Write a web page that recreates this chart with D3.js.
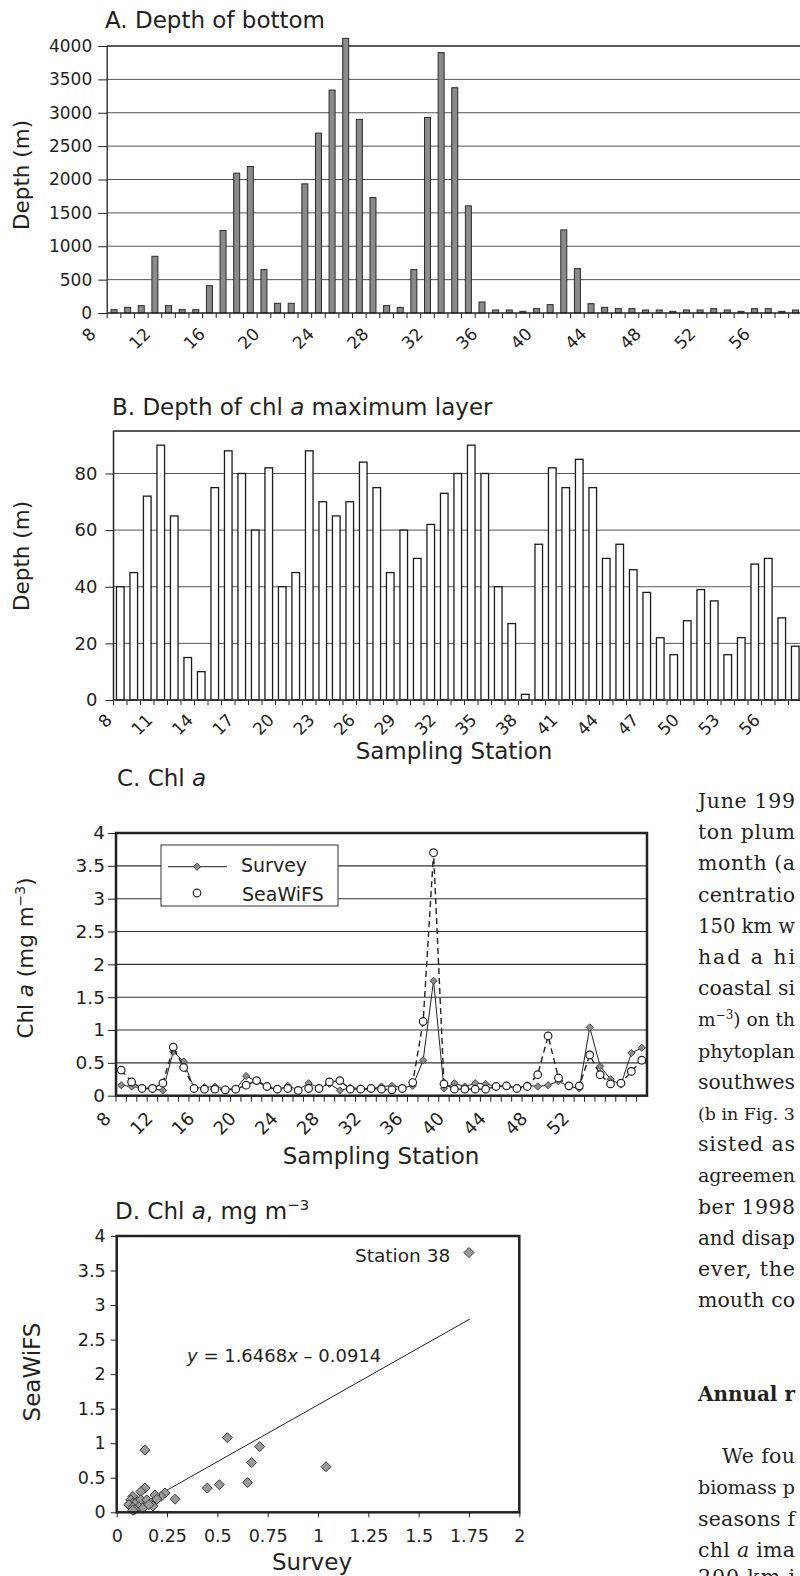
<!DOCTYPE html>
<html>
<head>
<meta charset="utf-8">
<script src="https://cdn.jsdelivr.net/npm/d3@7"></script>
<style>
  body { margin:0; background:#fff; }
  svg { display:block; color:#222; }
  svg text { font-family:"DejaVu Sans", sans-serif; fill:#231f20; }
  svg .body text { font-family:"DejaVu Serif", serif; }
</style>
</head>
<body>
<svg id="fig" width="800" height="1576"></svg>
<script>
var stations = [8,9,10,11,12,13,14,15,16,17,18,19,20,21,22,23,24,25,26,27,28,29,30,31,32,33,
  34,35,36,37,38,39,40,41,42,43,44,45,46,47,48,49,50,51,52,53,54,55,56,57,58];

// A. depth of bottom (m)
var bottomDepth = [50,85,110,850,110,50,50,410,1235,2095,2195,650,145,145,1935,2695,3340,4115,2900,1730,
  110,85,650,2930,3900,3375,1605,165,45,45,25,65,125,1245,665,140,85,65,65,45,45,25,45,45,65,45,25,65,65,25,45];
var depthTicksA = [0,500,1000,1500,2000,2500,3000,3500,4000];
var labelsA = [8,12,16,20,24,28,32,36,40,44,48,52,56];

// B. depth of chl a maximum layer (m)
var chlMaxDepth = [40,45,72,90,65,15,10,75,88,80,60,82,40,45,88,70,65,70,84,75,45,60,50,62,73,80,90,80,
  40,27,2,55,82,75,85,75,50,55,46,38,22,16,28,39,35,16,22,48,50,29,19];
var depthTicksB = [0,20,40,60,80];
var labelsB = [8,11,14,17,20,23,26,29,32,35,38,41,44,47,50,53,56];

// C. chl a (mg m-3)
var chlSurvey = [0.16,0.14,0.12,0.11,0.08,0.67,0.52,0.11,0.13,0.14,0.10,0.10,0.30,0.22,0.13,0.09,0.15,0.09,
  0.19,0.12,0.18,0.08,0.12,0.11,0.10,0.14,0.15,0.12,0.15,0.54,1.75,0.11,0.19,0.14,0.19,0.18,0.14,0.15,0.12,
  0.16,0.14,0.16,0.22,0.14,0.11,1.04,0.45,0.25,0.17,0.65,0.73];
var chlSeaWiFS = [0.39,0.21,0.11,0.11,0.19,0.74,0.43,0.11,0.10,0.10,0.09,0.10,0.16,0.23,0.14,0.10,0.11,0.08,
  0.11,0.11,0.21,0.23,0.10,0.10,0.11,0.10,0.09,0.11,0.20,1.13,3.70,0.18,0.10,0.10,0.10,0.10,0.14,0.15,0.11,
  0.14,0.32,0.91,0.27,0.15,0.15,0.62,0.32,0.18,0.19,0.37,0.54];
var chlTicks = [0,0.5,1,1.5,2,2.5,3,3.5,4];
var labelsC = [8,12,16,20,24,28,32,36,40,44,48,52];

// D. SeaWiFS vs survey
var scatterSurvey = [1.75,1.04,0.55,0.71,0.67,0.65,0.51,0.45,0.29,0.14,0.14,0.12,0.24,0.22,0.19,0.20,
  0.08,0.07,0.08,0.06,0.10,0.12,0.15,0.17,0.18,0.11,0.08,0.13,0.16,0.09,0.08];
var scatterSeaWiFS = [3.76,0.66,1.08,0.95,0.72,0.43,0.40,0.35,0.19,0.90,0.35,0.30,0.28,0.23,0.25,0.19,
  0.23,0.18,0.13,0.11,0.15,0.18,0.18,0.13,0.09,0.08,0.07,0.06,0.11,0.04,0.03];
var fitSlope = 1.6468, fitIntercept = -0.0914;
var surveyTicksD = [0,0.25,0.5,0.75,1,1.25,1.5,1.75,2];

var svg = d3.select("#fig");

function rich(t, parts){
  parts.forEach(function(p){
    var s = t.append("tspan").text(p[0]);
    if (p[1] == "i") s.attr("font-style", "italic");
    if (p[1] == "b") s.attr("font-weight", "bold");
    if (p[1] == "sup") s.attr("font-size", "65%").attr("baseline-shift", "super");
  });
  return t;
}
function label(g, x, y, fs, parts, anchor, rot){
  var t = g.append("text").attr("font-size", fs).attr("text-anchor", anchor || "start");
  if (rot) t.attr("transform", "translate(" + x + "," + y + ") rotate(" + rot + ")");
  else t.attr("x", x).attr("y", y);
  return rich(t, parts);
}
function hgrid(g, y, vals, x1, x2, col, w){
  g.append("g").selectAll("line").data(vals).join("line")
    .attr("x1", x1).attr("x2", x2)
    .attr("y1", function(d){ return y(d); }).attr("y2", function(d){ return y(d); })
    .attr("stroke", col).attr("stroke-width", w);
}
function yLabels(g, y, vals, x0, tick, pad, fs){
  var ax = g.append("g").attr("transform", "translate(" + x0 + ",0)")
    .call(d3.axisLeft(y).tickValues(vals).tickSizeInner(tick).tickSizeOuter(0).tickPadding(pad).tickFormat(d3.format("")));
  ax.select(".domain").remove();
  ax.attr("font-family", null).attr("font-size", fs);
}
function catAxis(g, x, y0, labels, fs, dx, dy, tick){
  g.append("g").selectAll("line").data(x.domain()).join("line")
    .attr("x1", function(d){ return x(d); }).attr("x2", function(d){ return x(d); })
    .attr("y1", y0).attr("y2", y0 + tick).attr("stroke", "#222");
  var ax = g.append("g").attr("transform", "translate(0," + y0 + ")")
    .call(d3.axisBottom(x).tickValues(labels).tickSize(0));
  ax.select(".domain").remove();
  ax.attr("font-family", null).attr("font-size", fs);
  ax.selectAll("text").attr("x", 0).attr("y", 0).attr("dy", null)
    .attr("text-anchor", "end")
    .attr("transform", "translate(" + dx + "," + dy + ") rotate(-45)");
}
function diamond(size){
  return d3.symbol(d3.symbolSquare, size)();
}

// ---- A ----
var xA = d3.scaleBand().domain(stations).range([107.2, 802.3]);
var yA = d3.scaleLinear().domain([0, 4000]).range([313, 46]);
var gA = svg.append("g");
hgrid(gA, yA, depthTicksA.slice(1, -1), 107.2, 800, "#555", 1);
hgrid(gA, yA, [4000], 107.2, 800, "#222", 1.5);
gA.append("g").selectAll("rect").data(bottomDepth).join("rect")
  .attr("x", function(d, i){ return xA(stations[i]) + xA.bandwidth() / 2 - 3; })
  .attr("width", 6)
  .attr("y", function(d){ return yA(d); })
  .attr("height", function(d){ return yA(0) - yA(d); })
  .attr("fill", "#8a8a8a").attr("stroke", "#2a2a2a").attr("stroke-width", 1);
gA.append("line").attr("x1", 107.2).attr("x2", 107.2).attr("y1", yA(4000)).attr("y2", yA(0)).attr("stroke", "#222").attr("stroke-width", 1.3);
gA.append("line").attr("x1", 107.2).attr("x2", 800).attr("y1", yA(0)).attr("y2", yA(0)).attr("stroke", "#222").attr("stroke-width", 1.3);
yLabels(gA, yA, depthTicksA, 107.2, 9, 6, 17);
catAxis(gA, xA, yA(0), labelsA, 17, -17, 22, 5);
label(gA, 105, 28, 23, [["A. Depth of bottom", ""]]);
label(gA, 29, 175, 21.5, [["Depth (m)", ""]], "middle", -90);

// ---- B ----
var xB = d3.scaleBand().domain(stations).range([113.5, 802]);
var yB = d3.scaleLinear().domain([0, 95]).range([700, 431]);
var gB = svg.append("g");
hgrid(gB, yB, depthTicksB.slice(1), 113.5, 800, "#555", 1);
gB.append("line").attr("x1", 113.5).attr("x2", 800).attr("y1", yB(95)).attr("y2", yB(95)).attr("stroke", "#222").attr("stroke-width", 1.5);
gB.append("g").selectAll("rect").data(chlMaxDepth).join("rect")
  .attr("x", function(d, i){ return xB(stations[i]) + xB.bandwidth() / 2 - 3.8; })
  .attr("width", 7.6)
  .attr("y", function(d){ return yB(d); })
  .attr("height", function(d){ return yB(0) - yB(d); })
  .attr("fill", "#fff").attr("stroke", "#1a1a1a").attr("stroke-width", 1.3);
gB.append("line").attr("x1", 113.5).attr("x2", 113.5).attr("y1", yB(95)).attr("y2", yB(0)).attr("stroke", "#222").attr("stroke-width", 1.5);
gB.append("line").attr("x1", 113.5).attr("x2", 800).attr("y1", yB(0)).attr("y2", yB(0)).attr("stroke", "#222").attr("stroke-width", 1.3);
yLabels(gB, yB, depthTicksB, 113.5, 8, 8, 18);
catAxis(gB, xB, yB(0), labelsB, 17, -7, 21, 5);
label(gB, 112, 415, 23, [["B. Depth of chl ", ""], ["a", "i"], [" maximum layer", ""]]);
label(gB, 29, 556, 21.5, [["Depth (m)", ""]], "middle", -90);
label(gB, 454, 759, 23, [["Sampling Station", ""]], "middle");

// ---- C ----
var xC = d3.scaleBand().domain(stations).range([116, 647]);
var yC = d3.scaleLinear().domain([0, 4]).range([1095.7, 833]);
var gC = svg.append("g");
hgrid(gC, yC, chlTicks.slice(1, -1), 116, 647, "#333", 1.1);
yLabels(gC, yC, chlTicks, 116, 8, 3, 18.5);
catAxis(gC, xC, yC(0), labelsC, 18, -9, 24, 6);
function cx(d, i){ return xC(stations[i]) + xC.bandwidth() / 2; }
var lineC = d3.line().x(cx).y(function(d){ return yC(d); });
gC.append("path").attr("d", lineC(chlSurvey)).attr("fill", "none").attr("stroke", "#222").attr("stroke-width", 1);
gC.append("g").selectAll("path").data(chlSurvey).join("path")
  .attr("d", diamond(26))
  .attr("transform", function(d, i){ return "translate(" + cx(d, i) + "," + yC(d) + ") rotate(45)"; })
  .attr("fill", "#8c8c8c").attr("stroke", "#333").attr("stroke-width", 0.8);
gC.append("path").attr("d", lineC(chlSeaWiFS)).attr("fill", "none").attr("stroke", "#222")
  .attr("stroke-width", 1.4).attr("stroke-dasharray", "6,4");
gC.append("g").selectAll("circle").data(chlSeaWiFS).join("circle")
  .attr("cx", cx).attr("cy", function(d){ return yC(d); }).attr("r", 3.8)
  .attr("fill", "#fff").attr("stroke", "#222").attr("stroke-width", 1.2);
gC.append("rect").attr("x", 116).attr("y", 833).attr("width", 531).attr("height", 262.7)
  .attr("fill", "none").attr("stroke", "#222").attr("stroke-width", 2.5);
// legend
var lg = gC.append("g");
lg.append("rect").attr("x", 161).attr("y", 845).attr("width", 177).attr("height", 61)
  .attr("fill", "#fff").attr("stroke", "#333").attr("stroke-width", 1);
lg.append("line").attr("x1", 168).attr("x2", 227).attr("y1", 866.7).attr("y2", 866.7).attr("stroke", "#222").attr("stroke-width", 1);
lg.append("path").attr("d", diamond(26)).attr("transform", "translate(197,866.7) rotate(45)")
  .attr("fill", "#8c8c8c").attr("stroke", "#333").attr("stroke-width", 0.8);
lg.append("circle").attr("cx", 197).attr("cy", 893).attr("r", 3.8).attr("fill", "#fff").attr("stroke", "#222").attr("stroke-width", 1.2);
label(lg, 241, 872, 19, [["Survey", ""]]);
label(lg, 242, 901, 19, [["SeaWiFS", ""]]);
label(gC, 117, 786, 23, [["C. Chl ", ""], ["a", "i"]]);
label(gC, 33, 958, 21.5, [["Chl ", ""], ["a", "i"], [" (mg m", ""], ["\u22123", "sup"], [")", ""]], "middle", -90);
label(gC, 381, 1164, 23, [["Sampling Station", ""]], "middle");

// ---- D ----
var xD = d3.scaleLinear().domain([0, 2]).range([116.7, 519.3]);
var yD = d3.scaleLinear().domain([0, 4]).range([1512.3, 1236]);
var gD = svg.append("g");
var axX = gD.append("g").attr("transform", "translate(0," + yD(0) + ")")
  .call(d3.axisBottom(xD).tickValues(surveyTicksD).tickSizeInner(5).tickSizeOuter(0).tickPadding(12).tickFormat(d3.format("")));
axX.select(".domain").remove();
axX.attr("font-family", null).attr("font-size", 17.5);
yLabels(gD, yD, chlTicks, 116.7, 6, 5, 17.5);
gD.append("line")
  .attr("x1", xD(0.06)).attr("y1", yD(fitSlope * 0.06 + fitIntercept))
  .attr("x2", xD(1.755)).attr("y2", yD(fitSlope * 1.755 + fitIntercept))
  .attr("stroke", "#222").attr("stroke-width", 1);
gD.append("g").selectAll("path").data(scatterSurvey).join("path")
  .attr("d", diamond(50))
  .attr("transform", function(d, i){ return "translate(" + xD(d) + "," + yD(scatterSeaWiFS[i]) + ") rotate(45)"; })
  .attr("fill", "#9a9a9a").attr("stroke", "#333").attr("stroke-width", 0.9);
gD.append("rect").attr("x", 116.7).attr("y", 1236).attr("width", 402.6).attr("height", 276.3)
  .attr("fill", "none").attr("stroke", "#222").attr("stroke-width", 2.5);
label(gD, 355, 1262, 18.5, [["Station 38", ""]]);
label(gD, 187, 1362, 18, [["y", "i"], [" = 1.6468", ""], ["x", "i"], [" \u2013 0.0914", ""]]);
label(gD, 115, 1219, 23, [["D. Chl ", ""], ["a", "i"], [", mg m", ""], ["\u22123", "sup"]]);
label(gD, 40, 1372, 23, [["SeaWiFS", ""]], "middle", -90);
label(gD, 312, 1570, 23, [["Survey", ""]], "middle");

// ---- body text column: only the part that shows on the page ----
var bodyLines = [
  [0, 0, [["June 199", ""]]],
  [1, 0, [["ton plum", ""]]],
  [2, 0, [["month (a", ""]]],
  [3, 0, [["centratio", ""]]],
  [4, 0, [["150 km w", ""]]],
  [5, 0, [["had a hi", ""]]],
  [6, 0, [["coastal si", ""]]],
  [7, 0, [["m", ""], ["\u22123", "sup"], [") on th", ""]]],
  [8, 0, [["phytoplan", ""]]],
  [9, 0, [["southwes", ""]]],
  [10, 0, [["(b in Fig. 3", ""]]],
  [11, 0, [["sisted as", ""]]],
  [12, 0, [["agreemen", ""]]],
  [13, 0, [["ber 1998", ""]]],
  [14, 0, [["and disap", ""]]],
  [15, 0, [["ever, the", ""]]],
  [16, 0, [["mouth co", ""]]],
  [19, 0, [["Annual r", "b"]]],
  [21, 24, [["We fou", ""]]],
  [22, 0, [["biomass p", ""]]],
  [23, 0, [["seasons f", ""]]],
  [24, 0, [["chl ", ""], ["a", "i"], [" ima", ""]]],
  [25, 0, [["200 km i", ""]]]
];
var gT = svg.append("g").attr("class", "body");
bodyLines.forEach(function(l){
  var fs = 20.5;
  var t = label(gT, 698 + l[1], Math.min(808 + l[0] * 31.2, 1584), fs, l[2]);
  var room = 97 - l[1];
  var w = t.node().getComputedTextLength();
  if (w > room) t.attr("font-size", fs * room / w);
  else t.attr("textLength", room).attr("lengthAdjust", "spacing");
});
</script>
</body>
</html>
